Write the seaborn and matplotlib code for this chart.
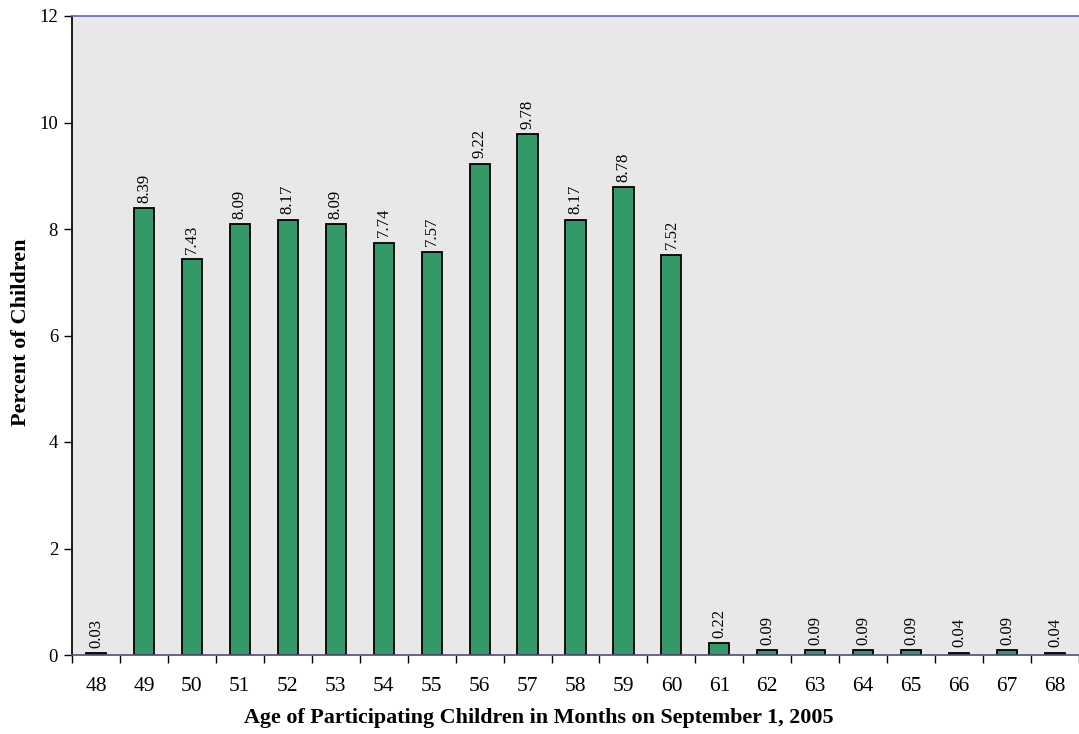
import matplotlib
matplotlib.use("Agg")
import matplotlib.pyplot as plt
import numpy as np
import pandas as pd
import seaborn as sns

# Datos
ages = [48, 49, 50, 51, 52, 53, 54, 55, 56, 57, 58, 59, 60,
        61, 62, 63, 64, 65, 66, 67, 68]
percents = [0.03, 8.39, 7.43, 8.09, 8.17, 8.09, 7.74, 7.57, 9.22, 9.78, 8.17, 8.78, 7.52,
            0.22, 0.09, 0.09, 0.09, 0.09, 0.04, 0.09, 0.04]
y_ticks = [0, 2, 4, 6, 8, 10, 12]

df = pd.DataFrame({"age": [str(a) for a in ages], "pct": percents})

sns.set_theme(style="white")
plt.rcParams['font.family'] = ['Liberation Serif', 'DejaVu Serif']
plt.rcParams['text.color'] = 'black'
plt.rcParams['axes.labelcolor'] = 'black'
plt.rcParams['xtick.color'] = 'black'
plt.rcParams['ytick.color'] = 'black'

fig = plt.figure(figsize=(10.79, 7.34), dpi=100)
ax = fig.add_axes([72 / 1079, 1 - 655 / 734, 1 - 72 / 1079, (655 - 16) / 734])
ax.set_facecolor('#e8e8e8')

sns.barplot(data=df, x="age", y="pct", color='#339966', saturation=1,
            edgecolor='black', linewidth=1.3, width=0.42, ax=ax)

# Etiquetas de valor rotadas
ax.bar_label(ax.containers[0], labels=[f'{v:.2f}' for v in percents],
             rotation=90, padding=4, fontsize=12, color='black')

ax.set_xlim(-0.5, len(ages) - 0.5)
ax.set_ylim(0, 12)
ax.set_yticks(y_ticks)

# Ticks del eje x en los límites de cada categoría
ax.set_xticks(np.arange(len(ages) + 1) - 0.5, minor=True)
ax.tick_params(axis='x', which='major', length=0, pad=16, labelsize=15.5)
ax.tick_params(axis='x', which='minor', length=6, width=1, direction='out', bottom=True)
ax.tick_params(axis='y', length=6, width=1, direction='out', left=True, labelsize=13.5, pad=4)

ax.set_xlabel('Age of Participating Children in Months on September 1, 2005',
              fontsize=15.8, fontweight='bold')
ax.set_ylabel('Percent of Children', fontsize=16, fontweight='bold')
# Posición de los títulos de ejes como en la referencia
ax.xaxis.set_label_coords(0.464, -0.0835)
ax.yaxis.set_label_coords(-0.041, 0.505)

ax.spines['left'].set_color('black')
ax.spines['bottom'].set_color('#555577')
ax.spines['top'].set_color('#6666cc')
ax.spines['right'].set_visible(False)

fig.savefig('out.png', dpi=100)
